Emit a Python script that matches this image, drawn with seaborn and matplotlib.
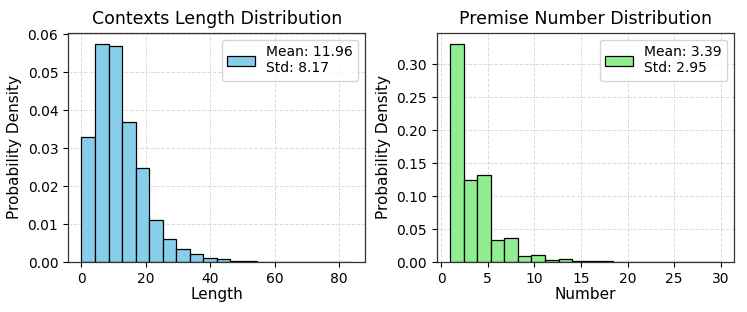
import numpy as np
import pandas as pd
import matplotlib
matplotlib.use("Agg")
import matplotlib.pyplot as plt
import seaborn as sns

# Contexts length histogram (density per bin), 20 bins over 0..84
length_edges = np.linspace(0, 84, 21)
length_density = [0.0328, 0.0575, 0.0569, 0.0369, 0.0249, 0.0112, 0.0060, 0.0034,
                  0.0022, 0.0011, 0.0007, 0.0004, 0.00025, 0.00012, 0.00006,
                  0.00004, 0.00005, 0.00004, 0.0, 0.00002]
length_mean, length_std = 11.96, 8.17

# Premise number histogram (density per bin), 20 bins over 1..30
premise_edges = np.linspace(1, 30, 21)
premise_density = [0.331, 0.1247, 0.1318, 0.0333, 0.0359, 0.0091, 0.0111, 0.0030,
                   0.0040, 0.0012, 0.0009, 0.0015, 0.0004, 0.0003, 0.0003,
                   0.0002, 0.0002, 0.0001, 0.0, 0.0001]
premise_mean, premise_std = 3.39, 2.95

sns.set_style("white")
plt.rcParams['font.family'] = ['DejaVu Sans']
plt.rcParams.update({"text.color": "black", "axes.labelcolor": "black",
                     "xtick.color": "black", "ytick.color": "black"})

fig, axes = plt.subplots(1, 2, figsize=(7.47, 3.12), dpi=100)
fig.subplots_adjust(left=0.091, right=0.983, bottom=0.16, top=0.895, wspace=0.24)

panels = [
    (axes[0], length_edges, length_density, "skyblue", length_mean, length_std,
     "Contexts Length Distribution", "Length"),
    (axes[1], premise_edges, premise_density, "lightgreen", premise_mean, premise_std,
     "Premise Number Distribution", "Number"),
]

for ax, edges, dens, color, mean, std, title, xlabel in panels:
    df = pd.DataFrame({"x": (edges[:-1] + edges[1:]) / 2, "w": dens})
    sns.histplot(data=df, x="x", weights="w", bins=list(edges), stat="count", ax=ax,
                 color=color, edgecolor="black", linewidth=0.9, alpha=1,
                 label=f"Mean: {mean:.2f}\nStd: {std:.2f}")
    ax.set_title(title, fontsize=12.5)
    ax.set_xlabel(xlabel, fontsize=11, labelpad=1)
    ax.set_ylabel("Probability Density", fontsize=11)
    ax.tick_params(labelsize=10, length=3.5, width=0.8, direction="out", bottom=True, left=True)
    ax.grid(True, linestyle="--", alpha=0.7, linewidth=0.7)
    ax.set_axisbelow(True)
    for s in ax.spines.values():
        s.set_color("#333333")
        s.set_linewidth(0.9)
    ax.legend(fontsize=10, loc="upper right", handlelength=2.0)

axes[0].set_xticks([0, 20, 40, 60, 80])
axes[1].set_xticks([0, 5, 10, 15, 20, 25, 30])

fig.savefig("out.png", dpi=100)
